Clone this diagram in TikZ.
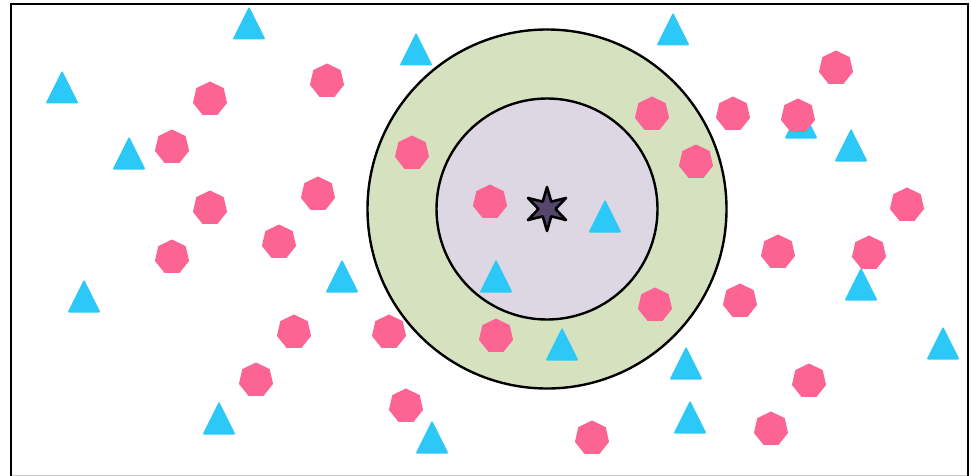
\documentclass[tikz,border=0pt]{standalone}
\definecolor{hepc}{HTML}{FC6593}
\definecolor{tric}{HTML}{2CC8F7}
\definecolor{ringc}{HTML}{D6E1C0}
\definecolor{corec}{HTML}{DDD7E4}
\definecolor{starc}{HTML}{56466E}
\begin{document}
\begin{tikzpicture}[x=1pt,y=-1pt,
  hept/.pic={\fill[hepc] (-90:17.5) \foreach \k in {1,...,6}{ -- (-90+\k*360/7:17.5)} -- cycle;},
  tria/.pic={\fill[tric, rounded corners=1.3pt] (-16.5,16.5) -- (0,-16.5) -- (16.5,16.5) -- cycle;},
  frameline/.style={line width=2.6pt, black},
  ringline/.style={line width=2.4pt, black},
]
\useasboundingbox (0,0) rectangle (971,476);
\fill[white] (0,0) rectangle (971,476);
% frame
\draw[gray!40, line width=1pt] (11,475.4) -- (968,475.4);
\draw[frameline] (11,482) -- (11,4) -- (968,4) -- (968,482);
% rings
\coordinate (c) at (547,209);
\filldraw[ringc, draw=black, line width=2.4pt] (c) circle[radius=179.5];
\filldraw[corec, draw=black, line width=2.4pt] (c) circle[radius=110.5];
% triangles
\pic (t1) at (62,87) {tria};
\pic (t2) at (249,23) {tria};
\pic (t3) at (416,49) {tria};
\pic (t4) at (129,153) {tria};
\pic (t5) at (84,296) {tria};
\pic (t6) at (342,276) {tria};
\pic (t7) at (219,418) {tria};
\pic (t8) at (432,437) {tria};
\pic (t9) at (605,216) {tria};
\pic (t10) at (496,276) {tria};
\pic (t11) at (562,344) {tria};
\pic (t12) at (673,29) {tria};
\pic (t13) at (801,122) {tria};
\pic (t14) at (851,145) {tria};
\pic (t15) at (861,284) {tria};
\pic (t16) at (943,343) {tria};
\pic (t17) at (686,363) {tria};
\pic (t18) at (690,417) {tria};
% heptagons
\pic (h1) at (210,99) {hept};
\pic (h2) at (327,81) {hept};
\pic (h3) at (172,147) {hept};
\pic (h4) at (210,208) {hept};
\pic (h5) at (318,194) {hept};
\pic (h6) at (172,257) {hept};
\pic (h7) at (279,242) {hept};
\pic (h8) at (294,332) {hept};
\pic (h9) at (389,332) {hept};
\pic (h10) at (256,380) {hept};
\pic (h11) at (406,406) {hept};
\pic (h12) at (412,153) {hept};
\pic (h13) at (490,202) {hept};
\pic (h14) at (496,336) {hept};
\pic (h15) at (652,114) {hept};
\pic (h16) at (696,162) {hept};
\pic (h17) at (655,305) {hept};
\pic (h18) at (733,114) {hept};
\pic (h19) at (798,116) {hept};
\pic (h20) at (836,68) {hept};
\pic (h21) at (907,205) {hept};
\pic (h22) at (778,252) {hept};
\pic (h23) at (869,253) {hept};
\pic (h24) at (740,301) {hept};
\pic (h25) at (809,381) {hept};
\pic (h26) at (771,429) {hept};
\pic (h27) at (592,438) {hept};
% star
\filldraw[starc, draw=black, line width=2.6pt, line join=round]
  ([shift={(-90:22)}]c) -- ([shift={(-60:8.5)}]c) -- ([shift={(-30:22)}]c) -- ([shift={(0:8.5)}]c)
  -- ([shift={(30:22)}]c) -- ([shift={(60:8.5)}]c) -- ([shift={(90:22)}]c) -- ([shift={(120:8.5)}]c)
  -- ([shift={(150:22)}]c) -- ([shift={(180:8.5)}]c) -- ([shift={(210:22)}]c) -- ([shift={(240:8.5)}]c) -- cycle;
\end{tikzpicture}
\end{document}
